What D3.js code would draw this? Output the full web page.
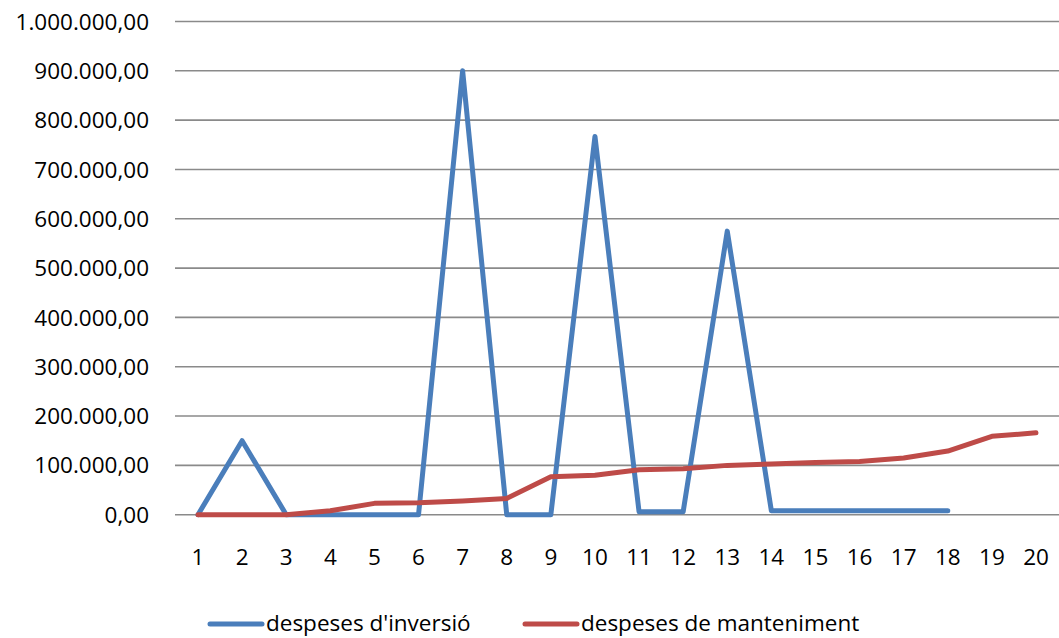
<!DOCTYPE html>
<html><head><meta charset="utf-8">
<script src="https://cdn.jsdelivr.net/npm/d3@7"></script>
<style>body{margin:0;background:#fff}svg{display:block}text{font-family:"Open Sans",Lato,sans-serif;fill:#000}</style>
</head><body><svg id="c" width="1059" height="638"></svg>
<script>
const categories = d3.range(1, 21).map(String);
const inversio = [0,150000,0,0,0,0,900000,0,0,767000,6000,6000,575000,8000,8000,8000,8000,8000,null,null];
const manteniment = [0,0,0,8000,23000,24000,28000,33000,77000,80000,91000,93000,100000,103000,106000,108000,115000,129000,159000,166000];
const yTicks = d3.range(0, 1000001, 100000);
const seriesNames = ["despeses d'inversió", "despeses de manteniment"];
const colors = ["#4a7ebb", "#be4b48"];

const svg = d3.select("#c");
const x = d3.scalePoint().domain(categories).range([198, 1036]);
const y = d3.scaleLinear().domain([0, 1000000]).range([514.7, 21.5]);
const fmt = v => d3.formatLocale({decimal:",", thousands:".", grouping:[3], currency:["",""]}).format(",.2f")(v);

svg.append("g").selectAll("line").data(yTicks).join("line")
  .attr("x1", 175).attr("x2", 1059).attr("y1", d => y(d)).attr("y2", d => y(d))
  .attr("stroke", "#8a8a8a").attr("stroke-width", 1.6);

svg.append("g").selectAll("text").data(yTicks).join("text")
  .attr("x", 149).attr("y", d => y(d)).attr("dy", "0.36em").attr("text-anchor", "end")
  .attr("font-size", 22.5).text(fmt);

svg.append("g").selectAll("text").data(categories).join("text")
  .attr("x", d => x(d)).attr("y", 557).attr("dy", "0.36em").attr("text-anchor", "middle")
  .attr("font-size", 22.5).text(d => d);

const line = d3.line().defined(d => d.v !== null).x(d => x(d.c)).y(d => y(d.v));
[inversio, manteniment].forEach((s, i) => {
  svg.append("path").datum(s.map((v, j) => ({c: categories[j], v})))
    .attr("d", line).attr("fill", "none").attr("stroke", colors[i])
    .attr("stroke-width", 5).attr("stroke-linejoin", "round").attr("stroke-linecap", "round");
});

const legX = [210, 525];
seriesNames.forEach((n, i) => {
  svg.append("line").attr("x1", legX[i]).attr("x2", legX[i] + 52).attr("y1", 624).attr("y2", 624)
    .attr("stroke", colors[i]).attr("stroke-width", 5).attr("stroke-linecap", "round");
  svg.append("text").attr("x", legX[i] + 56).attr("y", 623).attr("dy", "0.36em")
    .attr("font-size", 22.5).text(n);
});
</script></body></html>
